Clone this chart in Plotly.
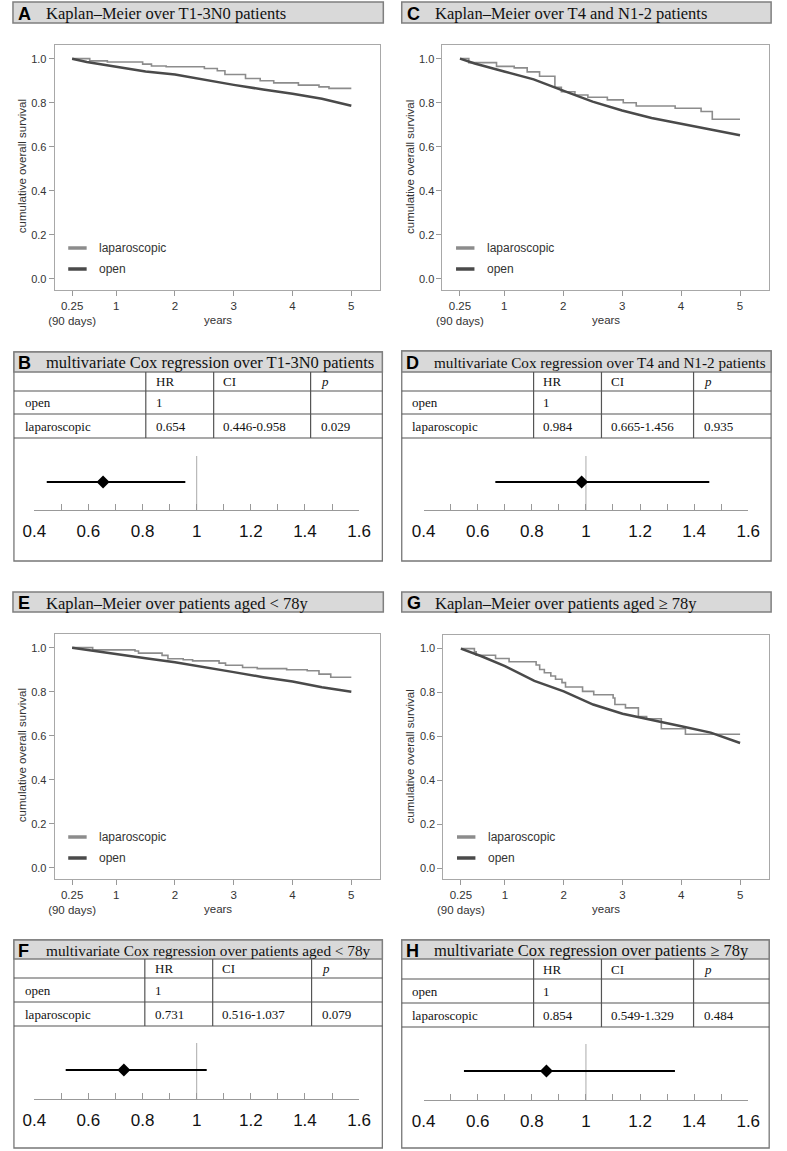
import plotly.graph_objects as go

W, H = 787, 1151

# ---------------- data ----------------
km_letters = ["A", "C", "E", "G"]
km_titles = [
    "Kaplan–Meier over T1-3N0 patients",
    "Kaplan–Meier over T4 and N1-2 patients",
    "Kaplan–Meier over patients aged < 78y",
    "Kaplan–Meier over patients aged ≥ 78y",
]
cox_letters = ["B", "D", "F", "H"]
cox_titles = [
    "multivariate Cox regression over T1-3N0 patients",
    "multivariate Cox regression over T4 and N1-2 patients",
    "multivariate Cox regression over patients aged < 78y",
    "multivariate Cox regression over patients ≥ 78y",
]
series_names = ["laparoscopic", "open"]

# panel A
lap_t_A = [0.25, 0.55, 0.85, 1.45, 1.6, 1.85, 2.5, 2.72, 2.85, 3.2, 3.45, 3.68, 4.1, 4.45, 4.62, 5.0]
lap_s_A = [1.0, 0.99, 0.985, 0.975, 0.967, 0.963, 0.955, 0.945, 0.928, 0.91, 0.9, 0.89, 0.88, 0.872, 0.865, 0.865]
open_t_A = [0.25, 0.5, 1.0, 1.5, 2.0, 2.5, 3.0, 3.5, 4.0, 4.5, 5.0]
open_s_A = [1.0, 0.985, 0.963, 0.942, 0.928, 0.904, 0.881, 0.86, 0.841, 0.818, 0.786]
# panel C
lap_t_C = [0.25, 0.4, 0.87, 1.17, 1.39, 1.6, 1.86, 1.97, 2.2, 2.42, 2.75, 3.02, 3.24, 3.9, 4.34, 4.53, 5.0]
lap_s_C = [1.0, 0.982, 0.965, 0.958, 0.94, 0.92, 0.87, 0.85, 0.835, 0.825, 0.813, 0.8, 0.785, 0.775, 0.76, 0.725, 0.725]
open_t_C = [0.25, 0.5, 1.0, 1.5, 2.0, 2.5, 3.0, 3.5, 4.0, 4.5, 5.0]
open_s_C = [1.0, 0.978, 0.942, 0.906, 0.855, 0.805, 0.765, 0.731, 0.705, 0.678, 0.652]
# panel E
lap_t_E = [0.25, 0.6, 1.32, 1.38, 1.78, 1.88, 2.14, 2.3, 2.75, 2.86, 3.15, 3.4, 3.9, 4.25, 4.45, 4.65, 5.0]
lap_s_E = [1.0, 0.99, 0.985, 0.975, 0.965, 0.95, 0.945, 0.94, 0.93, 0.92, 0.91, 0.905, 0.9, 0.895, 0.88, 0.866, 0.866]
open_t_E = [0.25, 0.5, 1.0, 1.5, 2.0, 2.5, 3.0, 3.5, 4.0, 4.5, 5.0]
open_s_E = [1.0, 0.99, 0.972, 0.952, 0.934, 0.91, 0.889, 0.866, 0.846, 0.82, 0.8]
# panel G
lap_t_G = [0.25, 0.48, 0.51, 0.84, 1.07, 1.53, 1.59, 1.67, 1.78, 1.86, 1.97, 2.03, 2.32, 2.51, 2.84, 2.87, 3.05, 3.27, 3.41, 3.66, 4.07, 5.0]
lap_s_G = [1.0, 0.985, 0.97, 0.955, 0.94, 0.925, 0.905, 0.89, 0.875, 0.86, 0.845, 0.825, 0.805, 0.79, 0.775, 0.745, 0.73, 0.69, 0.68, 0.635, 0.61, 0.61]
open_t_G = [0.25, 0.6, 1.0, 1.5, 2.0, 2.5, 3.0, 3.5, 4.0, 4.5, 5.0]
open_s_G = [1.0, 0.965, 0.92, 0.853, 0.805, 0.745, 0.703, 0.676, 0.646, 0.617, 0.57]

lap_t = [lap_t_A, lap_t_C, lap_t_E, lap_t_G]
lap_s = [lap_s_A, lap_s_C, lap_s_E, lap_s_G]
open_t = [open_t_A, open_t_C, open_t_E, open_t_G]
open_s = [open_s_A, open_s_C, open_s_E, open_s_G]

km_xticks = [0.25, 1, 2, 3, 4, 5]
km_xticktext = ["0.25<br>(90 days)", "1", "2", "3", "4", "5"]
km_yticks = [0.0, 0.2, 0.4, 0.6, 0.8, 1.0]
km_xlabel = "years"
km_ylabel = "cumulative overall survival"

hr = [0.654, 0.984, 0.731, 0.854]
ci_low = [0.446, 0.665, 0.516, 0.549]
ci_high = [0.958, 1.456, 1.037, 1.329]
p_values = ["0.029", "0.935", "0.079", "0.484"]
table_header = ["", "HR", "CI", "<i>p</i>"]
reference_label = "open"
reference_hr = 1
forest_ticks = [0.4, 0.6, 0.8, 1, 1.2, 1.4, 1.6]

# ---------------- layout geometry (pixels) ----------------
LAP_C = "#8c8c8c"
OPEN_C = "#4a4a4a"
FRAME_C = "#a8a8a8"
TEXT_C = "#333333"

km_frames = [(44, 380, 45, 290), (444, 781, 45, 290), (44, 380, 634, 879), (445, 781, 635, 879)]
km_bars = [(1, 383, 2, 23), (402, 783, 2, 23), (1, 383, 592, 612), (402, 783, 592, 612)]
cox_x = [(2, 382), (402, 783), (2, 382), (402, 781)]
cox_cols = [(138, 208, 308), (538, 608, 703), (137, 207, 309), (538, 608, 703)]
cox_rows = [
    [352, 372, 391, 414, 438, 561],
    [351, 372, 391, 414, 438, 561],
    [940, 959, 978, 1002, 1026, 1148],
    [940, 959, 979, 1003, 1027, 1148],
]
cox_title_size = [16.5, 15.2, 15.3, 16.5]
forest_dom = [(23, 358, 456, 510), (424.6, 759.4, 456, 510), (23, 358, 1043, 1099), (424.6, 759.4, 1044, 1100)]


def PX(x):
    return x / W


def PY(y):
    return 1 - y / H


fig = go.Figure()
layout = dict(
    width=W, height=H, margin=dict(l=0, r=0, t=0, b=0), autosize=False,
    paper_bgcolor="white", plot_bgcolor="white", showlegend=False,
)
shapes = []
annots = []

SERIF = "Liberation Serif"
SANS = "Liberation Sans"


def note(text, x, y, size, family=SANS, color=TEXT_C, xanchor="center", yanchor="middle", angle=0):
    annots.append(dict(text=text, x=PX(x), y=PY(y), xref="paper", yref="paper",
                       xanchor=xanchor, yanchor=yanchor, textangle=angle, showarrow=False,
                       borderpad=0, font=dict(family=family, size=size, color=color)))


# ---------------- Kaplan-Meier panels ----------------
for i in range(4):
    n = i + 1
    xa = "x" if n == 1 else f"x{n}"
    ya = "y" if n == 1 else f"y{n}"
    fig.add_trace(go.Scatter(x=lap_t[i], y=lap_s[i], mode="lines", name=series_names[0],
                             line=dict(shape="hv", color=LAP_C, width=1.6), xaxis=xa, yaxis=ya))
    fig.add_trace(go.Scatter(x=open_t[i], y=open_s[i], mode="lines", name=series_names[1],
                             line=dict(color=OPEN_C, width=2.5), xaxis=xa, yaxis=ya))
    l, r, t, b = km_frames[i]
    layout["xaxis" if n == 1 else f"xaxis{n}"] = dict(
        domain=[PX(l), PX(r)], anchor=ya, range=[-0.047, 5.495],
        tickvals=km_xticks, ticktext=km_xticktext, ticks="outside", ticklen=5,
        tickcolor="#999", showline=True, linecolor=FRAME_C, linewidth=1, mirror=True,
        showgrid=False, zeroline=False, fixedrange=True,
        tickfont=dict(family=SANS, size=11.5, color=TEXT_C),
    )
    layout["yaxis" if n == 1 else f"yaxis{n}"] = dict(
        domain=[PY(b), PY(t)], anchor=xa, range=[-0.05, 1.062],
        tickvals=km_yticks, tickformat=".1f", ticks="outside", ticklen=5,
        tickcolor="#999", showline=True, linecolor=FRAME_C, linewidth=1, mirror=True,
        showgrid=False, zeroline=False, fixedrange=True,
        tickfont=dict(family=SANS, size=11, color=TEXT_C),
    )
    note(km_ylabel, l - 34, (t + b) / 2 - 1, 11.5, angle=-90)
    note(km_xlabel, (l + r) / 2, b + 30, 11.5)
    # legend
    for k, (name, col) in enumerate(zip(series_names, [LAP_C, OPEN_C])):
        yy = b - 42 + 21 * k
        shapes.append(dict(type="line", xref="paper", yref="paper", x0=PX(l + 14), x1=PX(l + 33),
                           y0=PY(yy), y1=PY(yy), line=dict(color=col, width=3.5)))
        note(name, l + 45, yy, 12, xanchor="left")
    # title bar
    bl, br, bt, bb = km_bars[i]
    shapes.append(dict(type="rect", xref="paper", yref="paper", x0=PX(bl), x1=PX(br), y0=PY(bb), y1=PY(bt),
                       fillcolor="#d9d9d9", line=dict(color="#7f7f7f", width=1.5)))
    note("<b>" + km_letters[i] + "</b>", bl + 4, (bt + bb) / 2 + 1, 18, color="black", xanchor="left")
    note(km_titles[i], bl + 33, (bt + bb) / 2 + 1, 16.5, family=SERIF, color="#111", xanchor="left")

# ---------------- Cox tables + forest plots ----------------
for i in range(4):
    n = i + 5
    xa, ya = f"x{n}", f"y{n}"
    x0, x1 = cox_x[i]
    rows = cox_rows[i]
    cols = cox_cols[i]
    shapes.append(dict(type="rect", xref="paper", yref="paper", x0=PX(x0), x1=PX(x1), y0=PY(rows[5]),
                       y1=PY(rows[0]), line=dict(color="#777", width=1.3)))
    shapes.append(dict(type="rect", xref="paper", yref="paper", x0=PX(x0), x1=PX(x1), y0=PY(rows[1]),
                       y1=PY(rows[0]), fillcolor="#d9d9d9", line=dict(color="#7f7f7f", width=1.5)))
    for ry in rows[2:5]:
        shapes.append(dict(type="line", xref="paper", yref="paper", x0=PX(x0), x1=PX(x1), y0=PY(ry),
                           y1=PY(ry), line=dict(color="#555", width=1.2)))
    for cx in cols:
        shapes.append(dict(type="line", xref="paper", yref="paper", x0=PX(cx), x1=PX(cx), y0=PY(rows[1]),
                           y1=PY(rows[4]), line=dict(color="#555", width=1.2)))
    yt = (rows[0] + rows[1]) / 2 + 1
    note("<b>" + cox_letters[i] + "</b>", x0 + 3, yt, 18, color="black", xanchor="left")
    note(cox_titles[i], x0 + 32, yt, cox_title_size[i], family=SERIF, color="#111", xanchor="left")
    cell_rows = [
        table_header,
        [reference_label, "1", "", ""],
        [series_names[0], f"{hr[i]:.3f}", f"{ci_low[i]:.3f}-{ci_high[i]:.3f}", p_values[i]],
    ]
    col_x = [x0 + 10, cols[0] + 9, cols[1] + 9, cols[2] + 10]
    for rr, cells in enumerate(cell_rows):
        yc = (rows[1 + rr] + rows[2 + rr]) / 2
        for cc, txt in enumerate(cells):
            if txt:
                note(txt, col_x[cc], yc, 13, family=SERIF, color="#111", xanchor="left")
    # forest
    fl, fr, ft, fb = forest_dom[i]
    fig.add_trace(go.Scatter(
        x=[hr[i]], y=[0.52], mode="markers", xaxis=xa, yaxis=ya,
        marker=dict(symbol="diamond", size=10, color="black"),
        error_x=dict(type="data", symmetric=False, array=[ci_high[i] - hr[i]],
                     arrayminus=[hr[i] - ci_low[i]], thickness=2, width=0, color="black"),
    ))
    layout[f"xaxis{n}"] = dict(
        domain=[PX(fl), PX(fr)], anchor=ya, range=[forest_ticks[0], forest_ticks[-1]],
        tickvals=forest_ticks, ticks="inside", ticklen=6, tickcolor="#999", showline=True,
        linecolor="#999", linewidth=1, showgrid=False, zeroline=False, fixedrange=True,
        minor=dict(dtick=0.1, tick0=0.4, ticks="inside", ticklen=6, tickcolor="#999", showgrid=False),
        ticklabelstandoff=6,
        tickfont=dict(family=SANS, size=17, color="#111"),
    )
    layout[f"yaxis{n}"] = dict(domain=[PY(fb), PY(ft)], anchor=xa, range=[0, 1], visible=False,
                               fixedrange=True)
    shapes.append(dict(type="line", xref=xa, yref=f"{ya} domain", x0=reference_hr, x1=reference_hr,
                       y0=0, y1=1, layer="below", line=dict(color="#aaa", width=1)))

layout["shapes"] = shapes
layout["annotations"] = annots
fig.update_layout(**layout)
fig.write_html(
    "out.html",
    config={"responsive": False, "displayModeBar": False},
    post_script="document.body.style.margin='0';document.body.style.overflow='hidden';",
)
